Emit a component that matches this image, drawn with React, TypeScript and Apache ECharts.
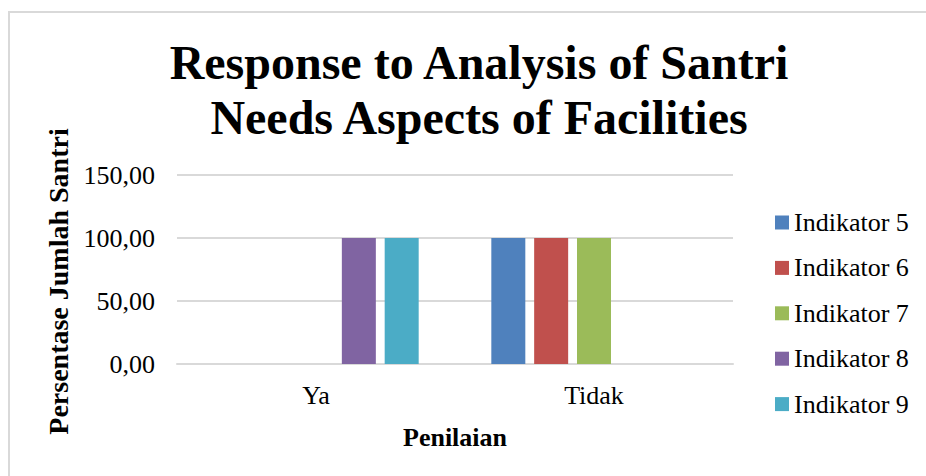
import React, { useEffect, useRef } from "react";
import * as echarts from "echarts";

const categories = ["Ya", "Tidak"];
const seriesNames = ["Indikator 5", "Indikator 6", "Indikator 7", "Indikator 8", "Indikator 9"];
const indikator5 = [0, 100];
const indikator6 = [0, 100];
const indikator7 = [0, 100];
const indikator8 = [100, 0];
const indikator9 = [100, 0];
const seriesValues = [indikator5, indikator6, indikator7, indikator8, indikator9];
const colors = ["#4f81bd", "#c0504d", "#9bbb59", "#8064a2", "#4bacc6"];

const FONT = "Liberation Serif";

export default function App() {
  const ref = useRef<HTMLDivElement>(null);
  useEffect(() => {
    document.body.style.margin = "0";
    const chart = echarts.init(ref.current!, null, { renderer: "svg" });
    const legendItems = seriesNames.flatMap((name, i) => [
      {
        type: "rect",
        shape: { x: 775, y: 215.5 + i * 45.4, width: 14, height: 14 },
        style: { fill: colors[i] },
        silent: true,
      },
      {
        type: "text",
        x: 794,
        y: 222.5 + i * 45.4,
        style: {
          text: name,
          font: "normal 26px 'Liberation Serif', 'Times New Roman', serif",
          fontFamily: "'Liberation Serif', 'Times New Roman', serif",
          fontSize: 26,
          fontWeight: "normal",
          fill: "#000",
          verticalAlign: "middle",
        },
        silent: true,
      },
    ]);
    chart.setOption({
      animation: false,
      backgroundColor: "#ffffff",
      color: colors,
      textStyle: { fontFamily: FONT },
      title: {
        text: "Response to Analysis of Santri\nNeeds Aspects of Facilities",
        left: 474,
        top: 30,
        textAlign: "center",
        textStyle: {
          fontFamily: FONT,
          fontWeight: "bold",
          fontSize: 48,
          lineHeight: 55,
          color: "#000",
        },
      },
      graphic: [
        {
          type: "rect",
          shape: { x: 9, y: 12, width: 940, height: 500 },
          style: { fill: "none", stroke: "#d9d9d9", lineWidth: 2 },
          silent: true,
        },
        ...legendItems,
      ],
      legend: { show: false },
      grid: { left: 177, right: 193, top: 175, bottom: 112 },
      xAxis: {
        type: "category",
        data: categories,
        axisTick: { show: false },
        axisLine: { lineStyle: { color: "#d9d9d9", width: 2 } },
        axisLabel: { fontFamily: FONT, fontSize: 26, color: "#000", margin: 18 },
        name: "Penilaian",
        nameLocation: "middle",
        nameGap: 60,
        nameTextStyle: { fontFamily: FONT, fontWeight: "bold", fontSize: 26, color: "#000" },
      },
      yAxis: {
        type: "value",
        min: 0,
        max: 150,
        interval: 50,
        axisLine: { show: false },
        axisTick: { show: false },
        splitLine: { lineStyle: { color: "#d9d9d9", width: 2 } },
        axisLabel: {
          fontFamily: FONT,
          fontSize: 26,
          color: "#000",
          margin: 22,
          formatter: (v: number) => v.toFixed(2).replace(".", ","),
        },
        name: "Persentase Jumlah Santri",
        nameLocation: "middle",
        nameGap: 102,
        nameTextStyle: {
          fontFamily: FONT,
          fontWeight: "bold",
          fontSize: 28,
          color: "#000",
          padding: [0, 24, 0, 0],
        },
      },
      series: seriesNames.map((name, i) => ({
        name,
        type: "bar",
        data: seriesValues[i],
        barWidth: 34,
        barGap: "26%",
        barCategoryGap: "26%",
        itemStyle: { color: colors[i] },
      })),
    });
    return () => chart.dispose();
  }, []);
  return <div ref={ref} style={{ width: 926, height: 476 }} />;
}
